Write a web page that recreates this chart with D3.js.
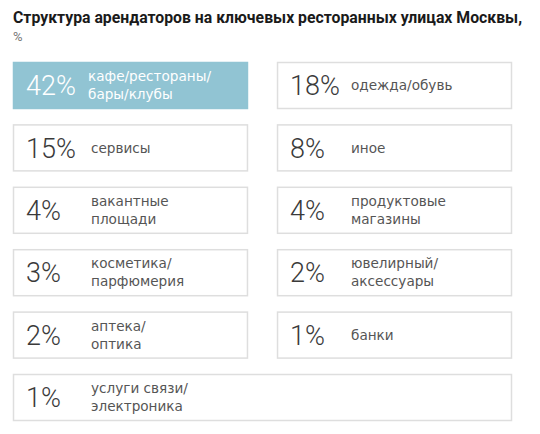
<!doctype html>
<html lang="ru">
<head>
    <meta charset="utf-8"/>
    <title>Структура арендаторов</title>
    <style>
        body { margin: 0; background: #fff; }
    </style>
</head>
<body>
    <svg id="chart"></svg>
    <script src="https://d3js.org/d3.v7.min.js"></script>
    <script>
        // shares, in reading order (left, right, left, right ...)
        const values = [42, 18, 15, 8, 4, 4, 3, 2, 2, 1, 1];
        const labels = [
            "кафе/рестораны/|бары/клубы",
            "одежда/обувь",
            "сервисы",
            "иное",
            "вакантные|площади",
            "продуктовые|магазины",
            "косметика/|парфюмерия",
            "ювелирный/|аксессуары",
            "аптека/|оптика",
            "банки",
            "услуги связи/|электроника"
        ];
        const titleLines = ["Структура арендаторов на ключевых ресторанных улицах Москвы,", "%"];

        const width = 540, height = 434;
        const nRows = Math.ceil(values.length / 2);

        const svg = d3.select("#chart")
            .attr("width", width)
            .attr("height", height)
            .attr("viewBox", [0, 0, width, height]);

        const col = d3.scaleBand().domain([0, 1]).range([13, 512]).paddingInner(0.11);
        const row = d3.scaleBand().domain(d3.range(nRows)).range([62, 421]).paddingInner(0.247);

        svg.append("g")
            .selectAll("text")
            .data(titleLines)
            .join("text")
                .attr("x", 13)
                .attr("y", (d, i) => 23 + i * 18)
                .attr("font-family", "Roboto, sans-serif")
                .attr("font-weight", (d, i) => i ? 400 : 700)
                .attr("font-size", (d, i) => i ? 13 : 15.8)
                .attr("fill", (d, i) => i ? "#777" : "#1a1a1a")
                .text(d => d);

        const items = values.map((v, i) => ({
            value: v,
            lines: labels[i].split("|"),
            c: i % 2,
            r: Math.floor(i / 2),
            // the last odd item runs across both columns
            wide: i === values.length - 1 && values.length % 2 === 1,
            hi: i === 0
        }));

        const cell = svg.append("g")
            .selectAll("g")
            .data(items)
            .join("g")
                .attr("transform", d => `translate(${col(d.c)},${row(d.r)})`);

        cell.append("rect")
            .attr("x", 0.5)
            .attr("y", 0.5)
            .attr("width", d => (d.wide ? col.range()[1] - col(0) : col.bandwidth()) - 1)
            .attr("height", row.bandwidth() - 1)
            .attr("fill", d => d.hi ? "#91c4d3" : "#fff")
            .attr("stroke", d => d.hi ? "#91c4d3" : "#dedede")
            .attr("stroke-width", 1.5);

        const mid = row.bandwidth() / 2;

        cell.append("text")
            .attr("x", 13)
            .attr("y", mid)
            .attr("dy", "0.36em")
            .attr("font-family", "Roboto, sans-serif")
            .attr("font-weight", 300)
            .attr("font-size", 27)
            .attr("fill", d => d.hi ? "#fff" : "#3a3a3a")
            .text(d => d.value + "%");

        cell.append("text")
            .attr("font-family", "'DejaVu Sans', sans-serif")
            .attr("font-size", 13.6)
            .attr("fill", d => d.hi ? "#fff" : "#555")
            .selectAll("tspan")
            .data(d => d.lines.map((t, k) => ({t, k, n: d.lines.length, c: d.c, first: d.hi})))
            .join("tspan")
                .attr("x", d => d.first ? 75 : (d.c ? 74 : 78))
                .attr("y", d => mid + (d.k - (d.n - 1) / 2) * 18)
                .attr("dy", "0.35em")
                .text(d => d.t);
    </script>
</body>
</html>
